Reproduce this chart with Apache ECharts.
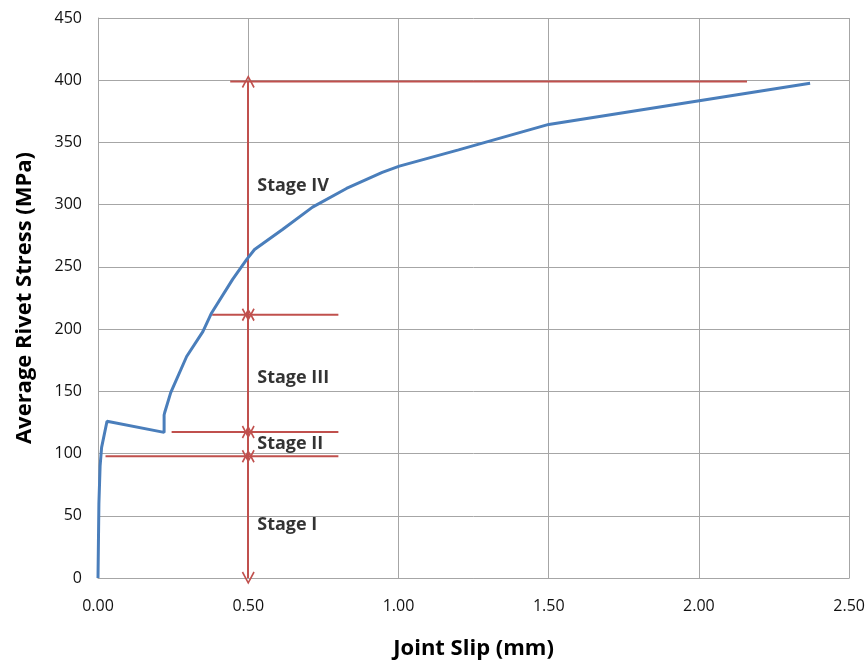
<!DOCTYPE html>
<html>
<head>
<meta charset="utf-8">
<script src="https://cdn.jsdelivr.net/npm/echarts@6/dist/echarts.min.js"></script>
<style>
  html, body { margin: 0; padding: 0; background: #fff; }
  #chart { width: 868px; height: 665px; }
</style>
</head>
<body>
<div id="chart"></div>
<script>
// measured curve: joint slip (mm) vs average rivet stress (MPa)
const slip = [0, 0.003, 0.007, 0.012, 0.03, 0.22, 0.22, 0.222, 0.242, 0.295, 0.349, 0.378, 0.448,
  0.495, 0.521, 0.614, 0.714, 0.827, 0.946, 1.003, 1.20, 1.50, 2.37];
const stress = [0, 60, 90, 105, 126, 117, 131, 133, 149, 178, 198, 213, 240,
  256, 264, 280, 298, 313, 326, 331, 344, 364.5, 397.5];

// stage boundaries: level, line start x, line end x
const bounds = [
  { y: 97.8, x0: 0.025, x1: 0.80 },
  { y: 117.3, x0: 0.245, x1: 0.80 },
  { y: 211.6, x0: 0.38, x1: 0.80 },
  { y: 399, x0: 0.44, x1: 2.16 },
];
const arrowX = 0.5;
const stageNames = ['Stage I', 'Stage II', 'Stage III', 'Stage IV'];
const stageLabelY = [42.5, 108, 161, 315];
const stageLabelX = 0.53;

const RED = '#c0504d';
const BLUE = '#4a7ebb';
const GRID = '#a6a6a6';
const FONT = '"Open Sans", "Noto Sans", sans-serif';

const chevron = 'path://M0,0 L6,10 L4.7,10.9 L0,2.8 L-4.7,10.9 L-6,10 Z';

const levels = [0].concat(bounds.map(b => b.y));
const arrowSegs = [];
for (let i = 0; i < bounds.length; i++) {
  arrowSegs.push([{ coord: [arrowX, levels[i]] }, { coord: [arrowX, levels[i + 1]] }]);
}

const chart = echarts.init(document.getElementById('chart'));

chart.setOption({
  animation: false,
  backgroundColor: '#fff',
  grid: { left: 98, right: 17, top: 18, bottom: 86 },
  xAxis: {
    type: 'value',
    min: 0, max: 2.5, interval: 0.5,
    name: 'Joint Slip (mm)',
    nameLocation: 'middle',
    nameGap: 60,
    nameTextStyle: { fontFamily: FONT, fontSize: 22, fontWeight: 'bold', color: '#000' },
    axisLine: { lineStyle: { color: GRID, width: 1 } },
    axisTick: { show: false },
    axisLabel: { fontFamily: FONT, fontSize: 16, color: '#111', margin: 20, formatter: v => v.toFixed(2) },
    splitLine: { lineStyle: { color: GRID, width: 1 } },
  },
  yAxis: {
    type: 'value',
    min: 0, max: 450, interval: 50,
    name: 'Average Rivet Stress (MPa)',
    nameLocation: 'middle',
    nameGap: 62,
    nameTextStyle: { fontFamily: FONT, fontSize: 22, fontWeight: 'bold', color: '#000' },
    axisLine: { show: true, lineStyle: { color: GRID, width: 1 } },
    axisTick: { show: false },
    axisLabel: { fontFamily: FONT, fontSize: 16, color: '#111', margin: 16 },
    splitLine: { lineStyle: { color: GRID, width: 1 } },
  },
  series: [
    {
      type: 'line',
      data: slip.map((x, i) => [x, stress[i]]),
      showSymbol: false,
      lineStyle: { color: BLUE, width: 3 },
      z: 5,
    },
    ...bounds.map((b, i) => ({
      type: 'line',
      data: [[b.x0, b.y], [b.x1, b.y]],
      showSymbol: false,
      lineStyle: { color: RED, width: 2 },
      z: 3,
      markLine: i === 0 ? {
        silent: true,
        symbol: [chevron, chevron],
        symbolSize: [13, 13],
        label: { show: false },
        lineStyle: { color: RED, width: 2, type: 'solid' },
        data: arrowSegs,
      } : undefined,
    })),
    {
      type: 'scatter',
      data: stageLabelY.map((y, i) => ({ value: [stageLabelX, y], name: stageNames[i] })),
      symbolSize: 0,
      label: {
        show: true,
        position: 'right',
        distance: 0,
        formatter: p => p.name,
        fontFamily: FONT,
        fontSize: 18,
        fontWeight: 'bold',
        color: '#000',
      },
      z: 6,
    },
  ],
});
</script>
</body>
</html>
